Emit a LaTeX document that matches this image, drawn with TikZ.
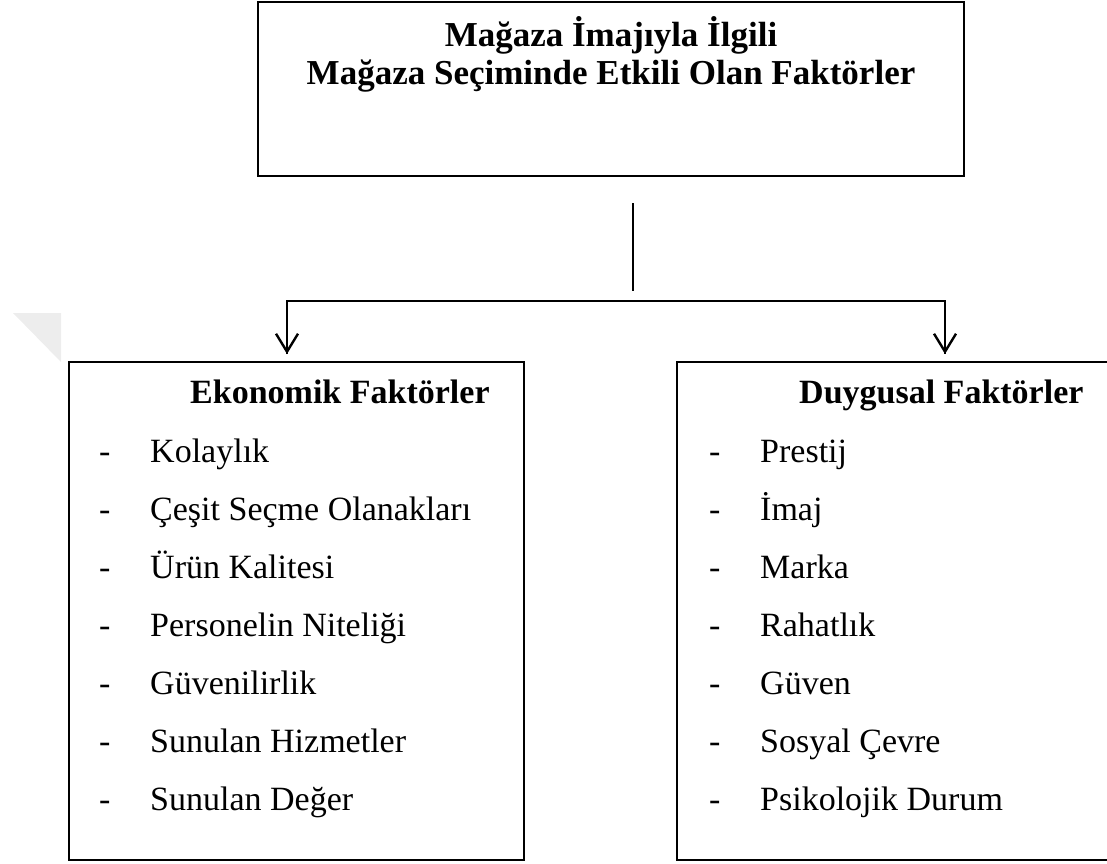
\documentclass[tikz,border=0pt]{standalone}
\usepackage{fontspec}
\setmainfont{Liberation Serif}
\usetikzlibrary{arrows.meta, positioning}

\begin{document}
\begin{tikzpicture}[x=1pt, y=-1pt,
    frame/.style={draw, line width=2.8pt},
    title/.style={font=\fontsize{35}{38}\selectfont\bfseries, anchor=base, inner sep=0pt},
    head/.style={font=\fontsize{34}{38}\selectfont\bfseries, anchor=base west, inner sep=0pt},
    item/.style={font=\fontsize{34}{38}\selectfont, anchor=base west, inner sep=0pt},
    link/.style={line width=2.4pt},
    tip/.style={-{Straight Barb[length=18pt, width=22pt, line width=2.4pt]}}]
    \useasboundingbox (0, 0) rectangle (1107, 863);

    % watermark corner
    \fill[black!7] (13, 313) -- (61, 313) -- (61, 362) -- cycle;

    % boxes
    \draw[frame] (258, 2) rectangle (964, 176);
    \draw[frame] (69, 362) rectangle (524, 860);
    \draw[frame] (677, 362) rectangle (1115, 860);

    \node[title] (top1) at (611, 46) {Mağaza İmajıyla İlgili};
    \node[title] (top2) at (611, 84) {Mağaza Seçiminde Etkili Olan Faktörler};

    % connectors
    \coordinate (stem) at (633, 203);
    \coordinate (fork) at (633, 301);
    \coordinate (forkL) at (287, 301);
    \coordinate (forkR) at (945, 301);
    \coordinate (endL) at (287, 354);
    \coordinate (endR) at (945, 354);
    \draw[link] (stem) -- (633, 291);
    \draw[link, line join=miter] (endL) -- (forkL) -- (forkR) -- (endR);
    \draw[link, tip] (forkL) -- (endL);
    \draw[link, tip] (forkR) -- (endR);

    \node[head] (ekoH) at (190, 403) {Ekonomik Faktörler};
    \node[head] (duyH) at (799, 403) {Duygusal Faktörler};

    % items
    \foreach \t [count=\i from 0] in {Kolaylık, Çeşit Seçme Olanakları, Ürün Kalitesi,
        Personelin Niteliği, Güvenilirlik, Sunulan Hizmetler, Sunulan Değer} {
      \node[item] (eko\i) at (150, 462 + 58*\i) {\t};
      \node[item] (ekoD\i) at (99, 462 + 58*\i) {-};
    }
    \foreach \t [count=\i from 0] in {Prestij, İmaj, Marka, Rahatlık, Güven,
        Sosyal Çevre, Psikolojik Durum} {
      \node[item] (duy\i) at (760, 462 + 58*\i) {\t};
      \node[item] (duyD\i) at (709, 462 + 58*\i) {-};
    }
  \end{tikzpicture}
\end{document}
